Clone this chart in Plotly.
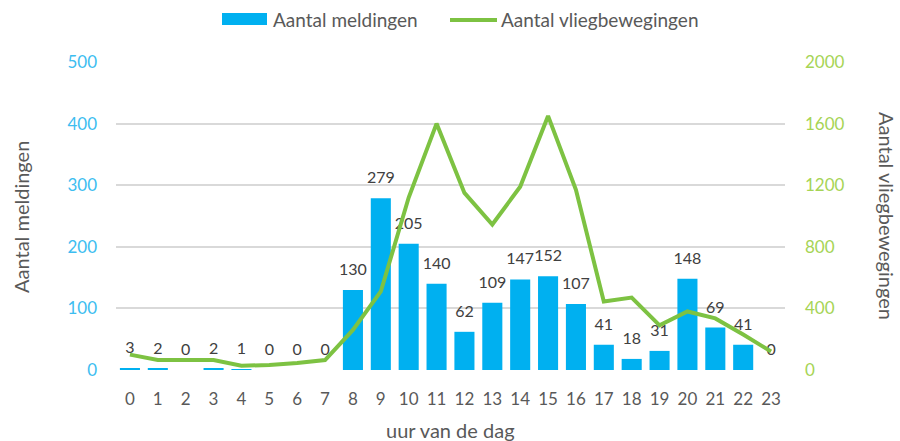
import plotly.graph_objects as go

hours = list(range(24))
hour_labels = [str(h) for h in hours]
meldingen = [3, 2, 0, 2, 1, 0, 0, 0, 130, 279, 205, 140, 62, 109, 147, 152, 107, 41, 18, 31, 148, 69, 41, 0]
vliegbewegingen = [100, 65, 65, 65, 28, 32, 45, 65, 260, 510, 1120, 1600, 1150, 945, 1190, 1650, 1170, 445, 470, 290, 380, 335, 230, 120]

left_ticks = [0, 100, 200, 300, 400, 500]
right_ticks = [0, 400, 800, 1200, 1600, 2000]

BLUE = "#00B0F0"
GREEN = "#7DC242"
GREY = "#595959"
FONT = "Lato"

W, H = 900, 441
L, R, T, B = 116, 115, 62, 71
pw, ph = W - L - R, H - T - B


def px(x):
    return (x - L) / pw


def py(y):
    return (H - B - y) / ph


fig = go.Figure()
fig.add_trace(go.Bar(
    x=hours, y=meldingen, name="Aantal meldingen",
    marker_color=BLUE, marker_line=dict(width=0),
    cliponaxis=False,
))
fig.add_trace(go.Scatter(
    x=hours, y=vliegbewegingen, name="Aantal vliegbewegingen",
    mode="lines", line=dict(color=GREEN, width=4), yaxis="y2",
))
# data labels above the bars
fig.add_trace(go.Scatter(
    x=hours, y=meldingen, mode="markers+text",
    marker=dict(size=16, color="rgba(0,0,0,0)"),
    text=[str(v) for v in meldingen], textposition="top center",
    textfont=dict(family=FONT, size=16, color="#404040"),
    cliponaxis=False, hoverinfo="skip", showlegend=False,
))

shapes = [
    dict(type="rect", xref="paper", yref="paper", x0=px(222), x1=px(267), y0=py(25), y1=py(13),
         fillcolor=BLUE, line=dict(width=0)),
    dict(type="line", xref="paper", yref="paper", x0=px(450), x1=px(497), y0=py(20), y1=py(20),
         line=dict(color=GREEN, width=4)),
]

annotations = [
    dict(text="Aantal meldingen", x=px(271), y=py(20), xanchor="left", yanchor="middle",
         font=dict(size=19, color=GREY)),
    dict(text="Aantal vliegbewegingen", x=px(499), y=py(20), xanchor="left", yanchor="middle",
         font=dict(size=19, color=GREY)),
    dict(text="Aantal meldingen", textangle=-90, x=px(21), y=py(217), xanchor="center", yanchor="middle",
         font=dict(size=20, color=GREY)),
    dict(text="Aantal vliegbewegingen", textangle=90, x=px(887), y=py(216), xanchor="center", yanchor="middle",
         font=dict(size=20, color=GREY)),
    dict(text="uur van de dag", x=px(450), y=py(430), xanchor="center", yanchor="middle",
         font=dict(size=20, color=GREY)),
]
for a in annotations:
    a.update(xref="paper", yref="paper", showarrow=False)

fig.update_layout(
    width=W, height=H,
    margin=dict(l=L, r=R, t=T, b=B, autoexpand=False),
    paper_bgcolor="white", plot_bgcolor="white",
    font=dict(family=FONT, color=GREY),
    bargap=0.28,
    showlegend=False,
    xaxis=dict(range=[-0.5, 23.5], tickmode="array", tickvals=hours, ticktext=hour_labels,
               tickfont=dict(size=17, color=GREY), showgrid=False, zeroline=False,
               showline=False, ticks="", ticklabelstandoff=17),
    yaxis=dict(range=[0, 500], tickvals=left_ticks, tickfont=dict(size=17, color="#3DBDF0"),
               gridcolor="#D9D9D9", gridwidth=1.5, zeroline=False, ticks="", ticklabelstandoff=18),
    yaxis2=dict(range=[0, 2000], tickvals=right_ticks, overlaying="y", side="right",
                tickfont=dict(size=17, color="#A6D455"), showgrid=False, zeroline=False,
                ticks="", ticklabelstandoff=19),
    shapes=shapes,
    annotations=annotations,
)

fig.write_html("out.html", config={"displayModeBar": False},
               post_script="document.body.style.margin='0';")
